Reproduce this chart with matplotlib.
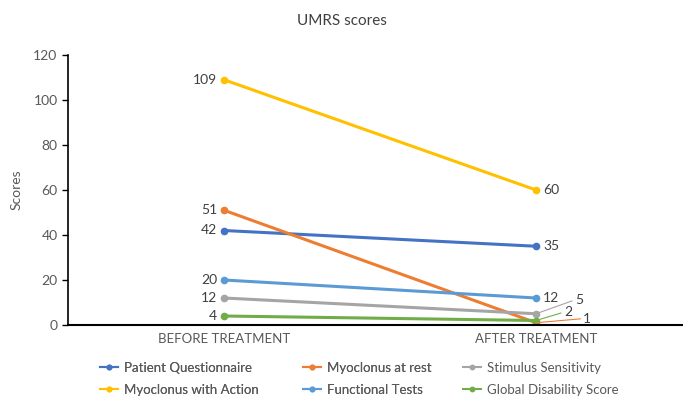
import matplotlib.pyplot as plt
from matplotlib.lines import Line2D

plt.rcParams['font.family'] = ['Lato', 'DejaVu Sans']

categories = ['BEFORE TREATMENT', 'AFTER TREATMENT']
series_names = ['Patient Questionnaire', 'Myoclonus at rest', 'Stimulus Sensitivity',
                'Myoclonus with Action', 'Functional Tests', 'Global Disability Score']
patient_q = [42, 35]
myo_rest = [51, 1]
stimulus = [12, 5]
myo_action = [109, 60]
functional = [20, 12]
global_dis = [4, 2]
colors = ['#4472C4', '#ED7D31', '#A5A5A5', '#FFC000', '#5B9BD5', '#70AD47']

all_values = [patient_q, myo_rest, stimulus, myo_action, functional, global_dis]

# offsets (points) of the right-hand labels; leader line when far from the point
after_offsets = [(5, 0), (34, 3), (28, 10), (5, 0), (5, 0), (20, 6)]

fig = plt.figure(figsize=(6.83, 4.0), dpi=100)
ax = fig.add_axes([68 / 683, 75 / 400, 615 / 683, 270 / 400])
x = [0, 1]
text_c = '#595959'

for name, vals, c, off in zip(series_names, all_values, colors, after_offsets):
    ax.plot(x, vals, color=c, lw=2.2, marker='o', ms=4.5, label=name)
    ax.annotate(str(vals[0]), (0, vals[0]), xytext=(-5, 0), textcoords='offset points',
                ha='right', va='center', fontsize=10, color='#404040')
    if off == (5, 0):
        ax.annotate(str(vals[1]), (1, vals[1]), xytext=off, textcoords='offset points',
                    ha='left', va='center', fontsize=10, color='#404040')
    else:
        ax.annotate(str(vals[1]), (1, vals[1]), xytext=off, textcoords='offset points',
                    ha='left', va='center', fontsize=10, color='#404040',
                    arrowprops=dict(arrowstyle='-', color=c, lw=0.8, shrinkA=0, shrinkB=0,
                                    relpos=(0, 0.5)))

ax.set_xlim(-0.5, 1.471)
ax.set_ylim(0, 120)
ax.set_yticks(range(0, 121, 20))
ax.set_xticks(x)
ax.set_xticklabels(categories)
ax.tick_params(axis='y', labelsize=10, colors=text_c, length=4, width=1, color='black')
ax.tick_params(axis='x', labelsize=9.5, colors=text_c, length=0, pad=6)
for s in ['top', 'right']:
    ax.spines[s].set_visible(False)
ax.spines['left'].set_linewidth(1.2)
ax.spines['bottom'].set_linewidth(1.5)
ax.set_ylabel('Scores', fontsize=10, color=text_c, labelpad=8)
fig.text(0.5, 0.948, 'UMRS scores', ha='center', va='center', fontsize=11, color='#404040')

# thin legend handles, one legend per column so entries run row by row
handles = [Line2D([], [], color=c, lw=1.5, marker='o', ms=3.2) for c in colors]
col_x = [100 / 683, 303 / 683, 463 / 683]
for i, cx in enumerate(col_x):
    leg = fig.legend([handles[i], handles[i + 3]], [series_names[i], series_names[i + 3]],
                     loc='upper left', bbox_to_anchor=(cx, 1 - 362 / 400), frameon=False,
                     fontsize=9.5, labelcolor=text_c, handlelength=1.4, handletextpad=0.4,
                     borderaxespad=0, borderpad=0, labelspacing=0.75)
    if i < 2:
        fig.add_artist(leg)

fig.savefig('out.png', dpi=100)
